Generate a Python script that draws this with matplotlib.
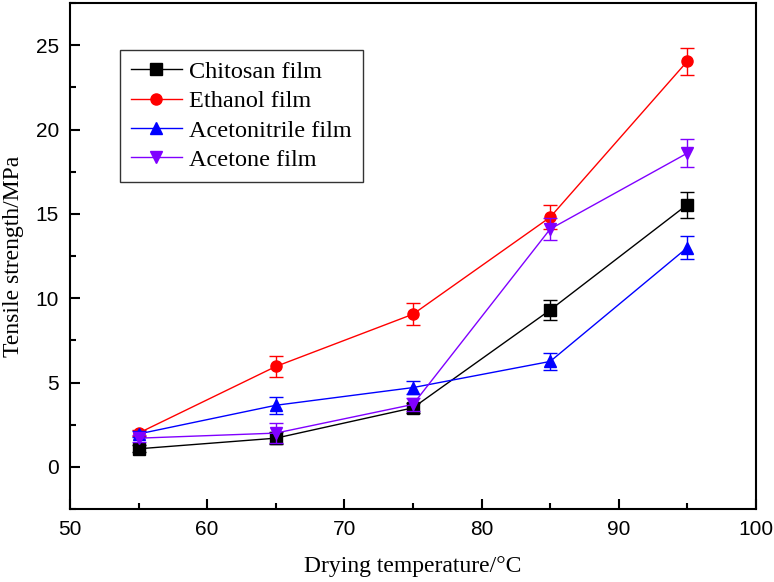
import matplotlib
matplotlib.use("Agg")
import matplotlib.pyplot as plt
from matplotlib.ticker import MultipleLocator

temps = [55, 65, 75, 85, 95]
series_names = ["Chitosan film", "Ethanol film", "Acetonitrile film", "Acetone film"]
chitosan = [1.07, 1.7, 3.5, 9.3, 15.55]
chitosan_err = [0.2, 0.35, 0.3, 0.62, 0.77]
ethanol = [2.0, 5.95, 9.05, 14.8, 24.05]
ethanol_err = [0.2, 0.6, 0.65, 0.7, 0.8]
acetonitrile = [1.95, 3.65, 4.7, 6.25, 13.0]
acetonitrile_err = [0.2, 0.5, 0.4, 0.5, 0.68]
acetone = [1.7, 2.0, 3.7, 14.1, 18.6]
acetone_err = [0.2, 0.6, 0.4, 0.65, 0.83]

colors = ["#000000", "#FF0000", "#0000FF", "#8000FF"]
markers = ["s", "o", "^", "v"]
values = [chitosan, ethanol, acetonitrile, acetone]
errors = [chitosan_err, ethanol_err, acetonitrile_err, acetone_err]

fig = plt.figure(figsize=(7.74, 5.82), dpi=100)
ax = fig.add_axes([0.0904, 0.1254, 0.8863, 0.8694])

for name, v, e, c, m in zip(series_names, values, errors, colors, markers):
    ax.errorbar(temps, v, yerr=e, fmt="none", ecolor=c, elinewidth=1.0,
                capsize=5, capthick=1.0)
    ax.plot(temps, v, color=c, marker=m, markersize=8, linewidth=1.0, label=name)

ax.set_xlim(50, 100)
ax.set_ylim(-2.5, 27.5)
ax.xaxis.set_major_locator(MultipleLocator(10))
ax.xaxis.set_minor_locator(MultipleLocator(5))
ax.yaxis.set_major_locator(MultipleLocator(5))
ax.yaxis.set_minor_locator(MultipleLocator(2.5))
ax.tick_params(which="both", direction="in", top=False, right=False, width=1.5)
ax.tick_params(which="major", length=7, labelsize=15, pad=8)
ax.tick_params(which="minor", length=4)
for lab in ax.get_xticklabels() + ax.get_yticklabels():
    lab.set_family("Liberation Sans")
for s in ax.spines.values():
    s.set_linewidth(1.5)

ax.set_xlabel("Drying temperature/\u00b0C", family="Liberation Serif", fontsize=17, labelpad=12)
ax.set_ylabel("Tensile strength/MPa", family="Liberation Serif", fontsize=17, labelpad=8)

leg = ax.legend(loc="upper left", bbox_to_anchor=(120 / 774, 1 - 50 / 582),
                bbox_transform=fig.transFigure, borderaxespad=0, frameon=True,
                fancybox=False, edgecolor="black",
                prop={"family": "Liberation Serif", "size": 17.5},
                handlelength=2.1, borderpad=0.45, labelspacing=0.3, handletextpad=0.3)
leg.get_frame().set_linewidth(1.0)

fig.savefig("out.png", dpi=100)
